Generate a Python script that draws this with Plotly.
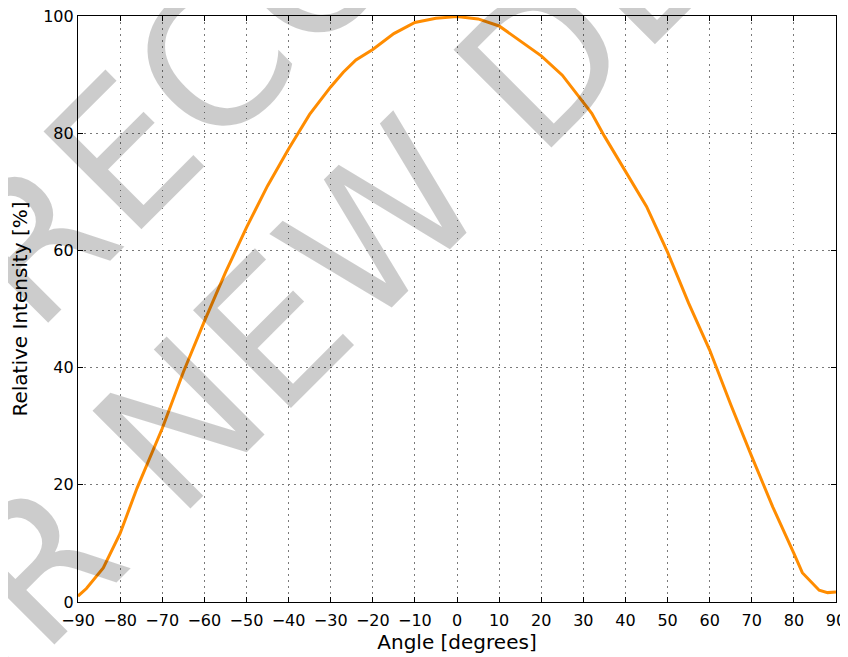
import plotly.graph_objects as go

# values
angle_deg = [-90, -88, -84, -80, -76, -70, -65, -60, -55, -50, -45, -40, -35, -30,
             -27, -24, -20, -15, -10, -5, 0, 5, 10, 15, 20, 25, 30, 32, 35, 40,
             45, 50, 55, 60, 65, 70, 75, 80, 82, 86, 88, 90]
intensity = [1.0, 2.3, 5.8, 11.7, 19.4, 29.6, 39.2, 47.9, 56.2, 63.9, 71.0, 77.3, 83.2, 87.9,
             90.4, 92.5, 94.3, 97.0, 98.9, 99.6, 99.9, 99.5, 98.3, 95.7, 93.2, 89.9, 85.2, 83.4, 79.5, 73.4,
             67.5, 59.7, 51.0, 43.0, 33.7, 24.8, 16.2, 8.3, 5.0, 2.0, 1.6, 1.7]

x_ticks = list(range(-90, 91, 10))
x_ticktext = [str(v).replace("-", "\u2212") for v in x_ticks]
y_ticks = [0, 20, 40, 60, 80, 100]

watermark_lines = ["NOT RECOMMENDED", "FOR NEW DESIGNS"]

FONT = "DejaVu Sans, Liberation Sans, sans-serif"

fig = go.Figure()
fig.add_trace(go.Scatter(
    x=angle_deg, y=intensity,
    mode="lines",
    line=dict(color="#ff8c00", width=3),
    showlegend=False,
))

axis_common = dict(
    showline=True, linecolor="black", linewidth=1.2, mirror="allticks",
    ticks="inside", ticklen=5, tickcolor="black", tickwidth=1,
    showgrid=True, gridcolor="#7a7a7a", gridwidth=1, griddash="1.5px,4.5px",
    zeroline=False, ticklabeloverflow="allow",
    tickfont=dict(family=FONT, size=16, color="black"),
)

fig.update_xaxes(
    range=[-90, 90], tickvals=x_ticks, ticktext=x_ticktext, ticklabelstandoff=4,
    title=dict(text="Angle [degrees]", font=dict(family=FONT, size=20, color="black"), standoff=4),
    **axis_common,
)
fig.update_yaxes(
    range=[0, 100], tickvals=y_ticks,
    title=dict(text="Relative Intensity [%]", font=dict(family=FONT, size=20, color="black"), standoff=21),
    **axis_common,
)

# watermark drawn over the plot
wm_pos = [(0.381, 1.178), (0.496, 0.767)]
for text, (px, py) in zip(watermark_lines, wm_pos):
    fig.add_annotation(
        text=text, xref="paper", yref="paper", x=px, y=py,
        xanchor="center", yanchor="middle", showarrow=False,
        textangle=-45,
        font=dict(family=FONT, size=190, color="rgba(0,0,0,0.2)"),
    )

# page body keeps its default 8px margin, so the figure is 8px smaller
fig.update_layout(
    width=840, height=649,
    margin=dict(l=70, r=12, t=8, b=55, autoexpand=False),
    plot_bgcolor="white", paper_bgcolor="white",
)

fig.write_html("out.html")
